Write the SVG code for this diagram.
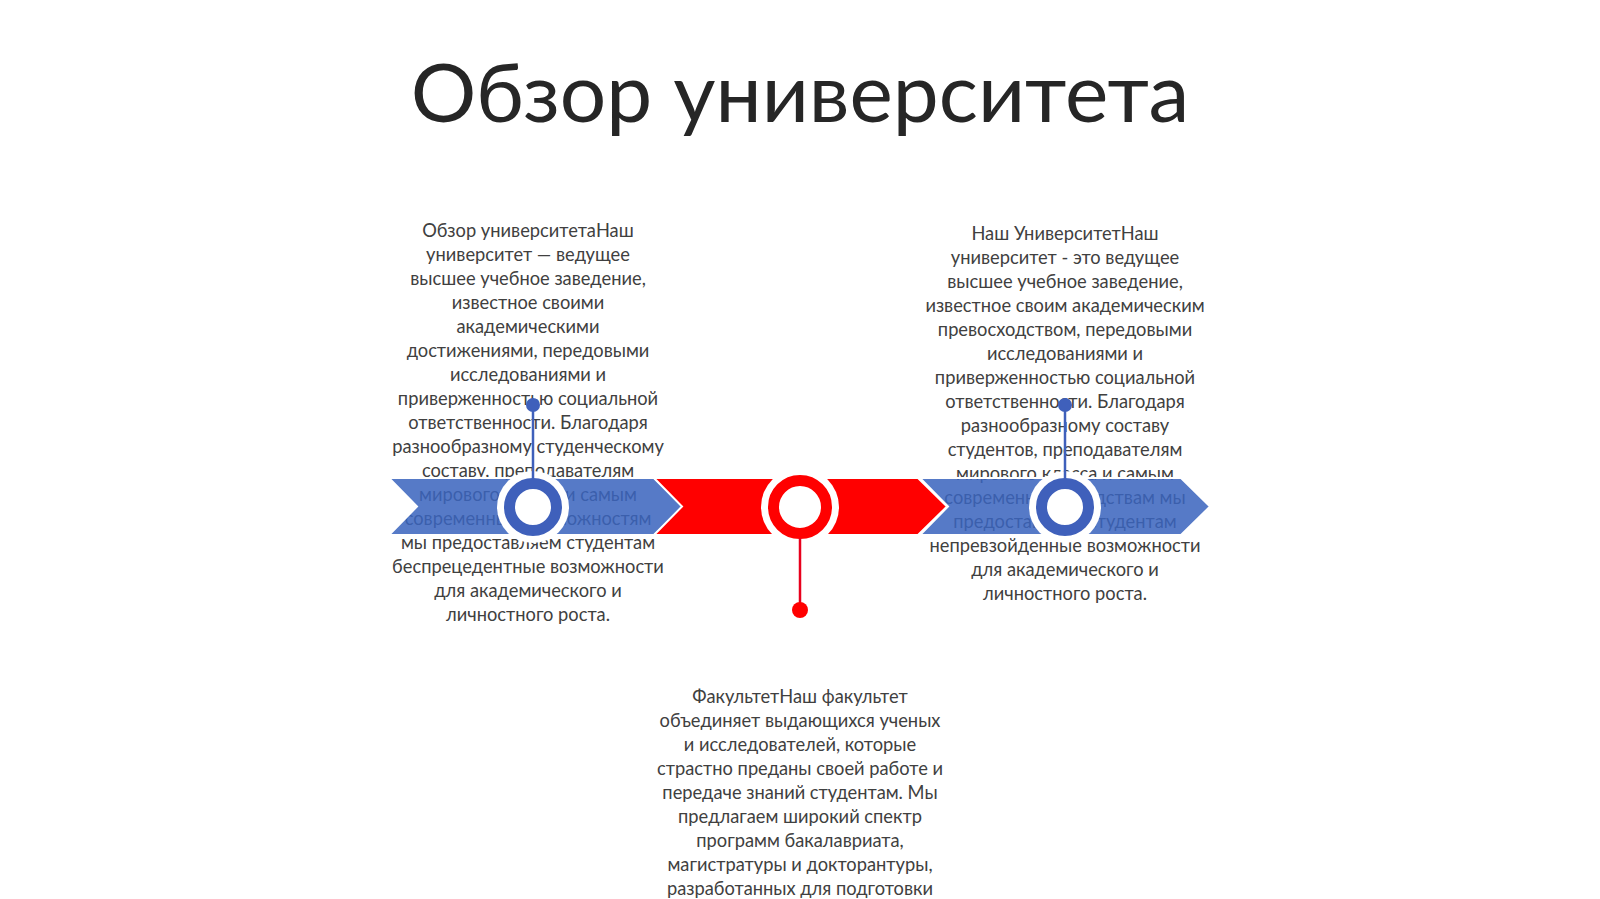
<svg xmlns="http://www.w3.org/2000/svg" width="1600" height="899" viewBox="0 0 1600 899">
<style>
.title{font-family:Lato,"Open Sans","DejaVu Sans",sans-serif;font-size:82px;fill:#262626;text-anchor:middle}
.body{font-family:Lato,"Open Sans","DejaVu Sans",sans-serif;font-size:18.3px;fill:#404040;text-anchor:middle;stroke:#ffffff;stroke-width:1.5px;paint-order:stroke;stroke-linejoin:round}
.blue{fill:#3A64BE;fill-opacity:0.86;stroke:#ffffff;stroke-width:2}
.red{fill:#FF0000;stroke:#ffffff;stroke-width:2}
.halo{fill:#ffffff}
.ringB{fill:none;stroke:#3F60BB;stroke-width:11}
.ringR{fill:none;stroke:#FF0000;stroke-width:11}
.stemB{stroke:#3F60BB;stroke-width:2.5}
.stemR{stroke:#E8001C;stroke-width:2.5}
.dotB{fill:#3F60BB}
.dotR{fill:#FF0000}
</style>
<rect width="1600" height="899" fill="#ffffff"/>
<g id="title"><text class="title" x="800" y="122">Обзор университета</text></g>

<g id="text-left">
<text class="body" x="528" y="237">Обзор университетаНаш</text>
<text class="body" x="528" y="261">университет — ведущее</text>
<text class="body" x="528" y="285">высшее учебное заведение,</text>
<text class="body" x="528" y="309">известное своими</text>
<text class="body" x="528" y="333">академическими</text>
<text class="body" x="528" y="357">достижениями, передовыми</text>
<text class="body" x="528" y="381">исследованиями и</text>
<text class="body" x="528" y="405">приверженностью социальной</text>
<text class="body" x="528" y="429">ответственности. Благодаря</text>
<text class="body" x="528" y="453">разнообразному студенческому</text>
<text class="body" x="528" y="477">составу, преподавателям</text>
<text class="body" x="528" y="501">мирового класса и самым</text>
<text class="body" x="528" y="525">современным возможностям</text>
<text class="body" x="528" y="549">мы предоставляем студентам</text>
<text class="body" x="528" y="573">беспрецедентные возможности</text>
<text class="body" x="528" y="597">для академического и</text>
<text class="body" x="528" y="621">личностного роста.</text>
</g>

<g id="text-right">
<text class="body" x="1065" y="240">Наш УниверситетНаш</text>
<text class="body" x="1065" y="264">университет - это ведущее</text>
<text class="body" x="1065" y="288">высшее учебное заведение,</text>
<text class="body" x="1065" y="312">известное своим академическим</text>
<text class="body" x="1065" y="336">превосходством, передовыми</text>
<text class="body" x="1065" y="360">исследованиями и</text>
<text class="body" x="1065" y="384">приверженностью социальной</text>
<text class="body" x="1065" y="408">ответственности. Благодаря</text>
<text class="body" x="1065" y="432">разнообразному составу</text>
<text class="body" x="1065" y="456">студентов, преподавателям</text>
<text class="body" x="1065" y="480">мирового класса и самым</text>
<text class="body" x="1065" y="504">современным средствам мы</text>
<text class="body" x="1065" y="528">предоставляем студентам</text>
<text class="body" x="1065" y="552">непревзойденные возможности</text>
<text class="body" x="1065" y="576">для академического и</text>
<text class="body" x="1065" y="600">личностного роста.</text>
</g>

<g id="text-bottom">
<text class="body" x="800" y="703">ФакультетНаш факультет</text>
<text class="body" x="800" y="727">объединяет выдающихся ученых</text>
<text class="body" x="800" y="751">и исследователей, которые</text>
<text class="body" x="800" y="775">страстно преданы своей работе и</text>
<text class="body" x="800" y="799">передаче знаний студентам. Мы</text>
<text class="body" x="800" y="823">предлагаем широкий спектр</text>
<text class="body" x="800" y="847">программ бакалавриата,</text>
<text class="body" x="800" y="871">магистратуры и докторантуры,</text>
<text class="body" x="800" y="895">разработанных для подготовки</text>
</g>

<g id="arrow-left"><path class="blue" d="M389,478 L654,478 L683,506.5 L654,535 L389,535 L417,506.5 Z"/></g>
<g id="arrow-center"><path class="red" d="M654,478 L918,478 L947,506.5 L918,535 L654,535 L682,506.5 Z"/></g>
<g id="arrow-right"><path class="blue" d="M920,478 L1181,478 L1210,506.5 L1181,535 L920,535 L948,506.5 Z"/></g>

<g id="marker-left">
<circle class="halo" cx="533" cy="507" r="36"/>
<circle class="ringB" cx="533" cy="507" r="23.5"/>
</g>
<g id="marker-center">
<circle class="halo" cx="800" cy="507" r="39"/>
<circle class="ringR" cx="800" cy="507" r="26.5"/>
</g>
<g id="marker-right">
<circle class="halo" cx="1065" cy="507" r="36"/>
<circle class="ringB" cx="1065" cy="507" r="23.5"/>
</g>

<g id="connectors">
<line class="stemB" x1="533" y1="405" x2="533" y2="479"/>
<circle class="dotB" cx="533" cy="405" r="7"/>
<line class="stemR" x1="800" y1="538" x2="800" y2="610"/>
<circle class="dotR" cx="800" cy="610" r="8"/>
<line class="stemB" x1="1065" y1="405" x2="1065" y2="479"/>
<circle class="dotB" cx="1065" cy="405" r="7"/>
</g>
</svg>
